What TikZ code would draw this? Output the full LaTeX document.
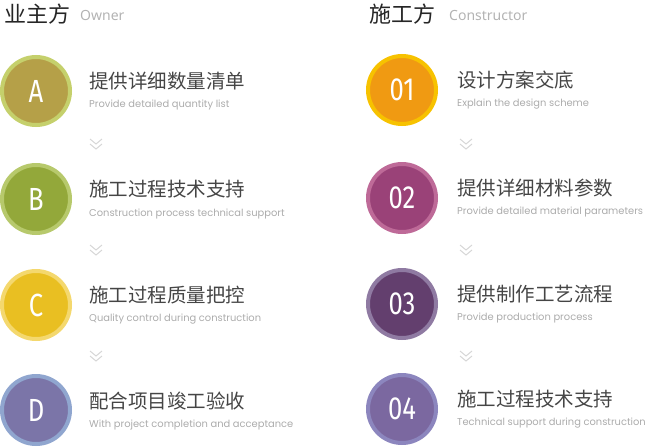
\documentclass[tikz,border=0pt]{standalone}
\usepackage{fontspec}
\setmainfont{Poppins}
\newfontfamily\cjk{Noto Sans CJK SC}
\newfontfamily\hdr{Noto Sans}
\newfontfamily\circfont{Fira Sans}
\definecolor{aF}{HTML}{B5A048}\definecolor{aR}{HTML}{C5D06C}
\definecolor{bF}{HTML}{93A83A}\definecolor{bR}{HTML}{B7C96C}
\definecolor{cF}{HTML}{E9BF22}\definecolor{cR}{HTML}{F4D86E}
\definecolor{dF}{HTML}{7B75A8}\definecolor{dR}{HTML}{90A6CF}
\definecolor{eF}{HTML}{F09A12}\definecolor{eR}{HTML}{F7C200}
\definecolor{fF}{HTML}{9A4278}\definecolor{fR}{HTML}{BE6A98}
\definecolor{gF}{HTML}{633F6E}\definecolor{gR}{HTML}{8F7AA2}
\definecolor{hF}{HTML}{7B68A0}\definecolor{hR}{HTML}{8C86BE}
\definecolor{ttl}{HTML}{454545}
\definecolor{sub}{HTML}{ABABAB}
\definecolor{chev}{HTML}{D6D6D6}
\definecolor{hgray}{HTML}{B3B3B3}
\begin{document}
\begin{tikzpicture}[x=1pt,y=-1pt,
  circ/.style n args={2}{circle,minimum size=68pt,inner sep=0pt,fill=#1,draw=#2,line width=4pt,text=white,
     font=\circfont\fontsize{32}{32}\selectfont},
  title/.style={anchor=west,inner sep=0pt,text=ttl,font=\cjk\fontsize{19.5}{20}\selectfont},
  subt/.style={anchor=west,inner sep=0pt,text=sub,font=\fontsize{9.9}{11}\selectfont},
  head/.style={anchor=west,inner sep=0pt,text=black!85,font=\cjk\fontsize{22}{22}\selectfont},
  headen/.style={anchor=west,inner sep=0pt,text=hgray,font=\hdr\fontsize{14}{14}\selectfont},
  chevline/.style={draw=chev,line width=1pt},
]
\useasboundingbox (0,0) rectangle (647,447);
% headers
\node[head] (h1) at (4,14) {业主方};
\node[headen] (h1e) at (80,15.5) {Owner};
\node[head] (h2) at (369,14) {施工方};
\node[headen] (h2e) at (449,15.5) {Constructor};
% left column
\node[circ={aF}{aR}] (a) at (36,91) {\scalebox{0.8}[1]{A}};
\node[title] (ta) at (89,81) {提供详细数量清单};
\node[subt] (sa) at (89,105.5) {Provide detailed quantity list};
\node[circ={bF}{bR}] (b) at (36,199) {\scalebox{0.8}[1]{B}};
\node[title] (tb) at (89,189.5) {施工过程技术支持};
\node[subt] (sb) at (89,214.5) {Construction process technical support};
\node[circ={cF}{cR}] (c) at (36,305) {\scalebox{0.8}[1]{C}};
\node[title] (tc) at (89,295.5) {施工过程质量把控};
\node[subt] (sc) at (89,319.5) {Quality control during construction};
\node[circ={dF}{dR}] (d) at (36,410) {\scalebox{0.8}[1]{D}};
\node[title] (td) at (89,401.5) {配合项目竣工验收};
\node[subt] (sd) at (89,425.5) {With project completion and acceptance};
% right column
\node[circ={eF}{eR}] (e) at (402,90) {\scalebox{0.8}[1]{01}};
\node[title] (te) at (457,80) {设计方案交底};
\node[subt] (se) at (457,104) {Explain the design scheme};
\node[circ={fF}{fR}] (f) at (402,198) {\scalebox{0.8}[1]{02}};
\node[title] (tf) at (457,188.5) {提供详细材料参数};
\node[subt] (sf) at (457,212.5) {Provide detailed material parameters};
\node[circ={gF}{gR}] (g) at (402,304) {\scalebox{0.8}[1]{03}};
\node[title] (tg) at (457,294) {提供制作工艺流程};
\node[subt] (sg) at (457,318) {Provide production process};
\node[circ={hF}{hR}] (h) at (402,409) {\scalebox{0.8}[1]{04}};
\node[title] (th) at (457,399.5) {施工过程技术支持};
\node[subt] (sh) at (457,423) {Technical support during construction};
% chevrons
\foreach \cx/\cy in {96/139,96/245,96/351,466/139,466/245,466/351}{
  \draw[chevline] (\cx-6,\cy) -- (\cx,\cy+5) -- (\cx+6,\cy);
  \draw[chevline] (\cx-6,\cy+5) -- (\cx,\cy+10) -- (\cx+6,\cy+5);
}
\end{tikzpicture}
\end{document}
